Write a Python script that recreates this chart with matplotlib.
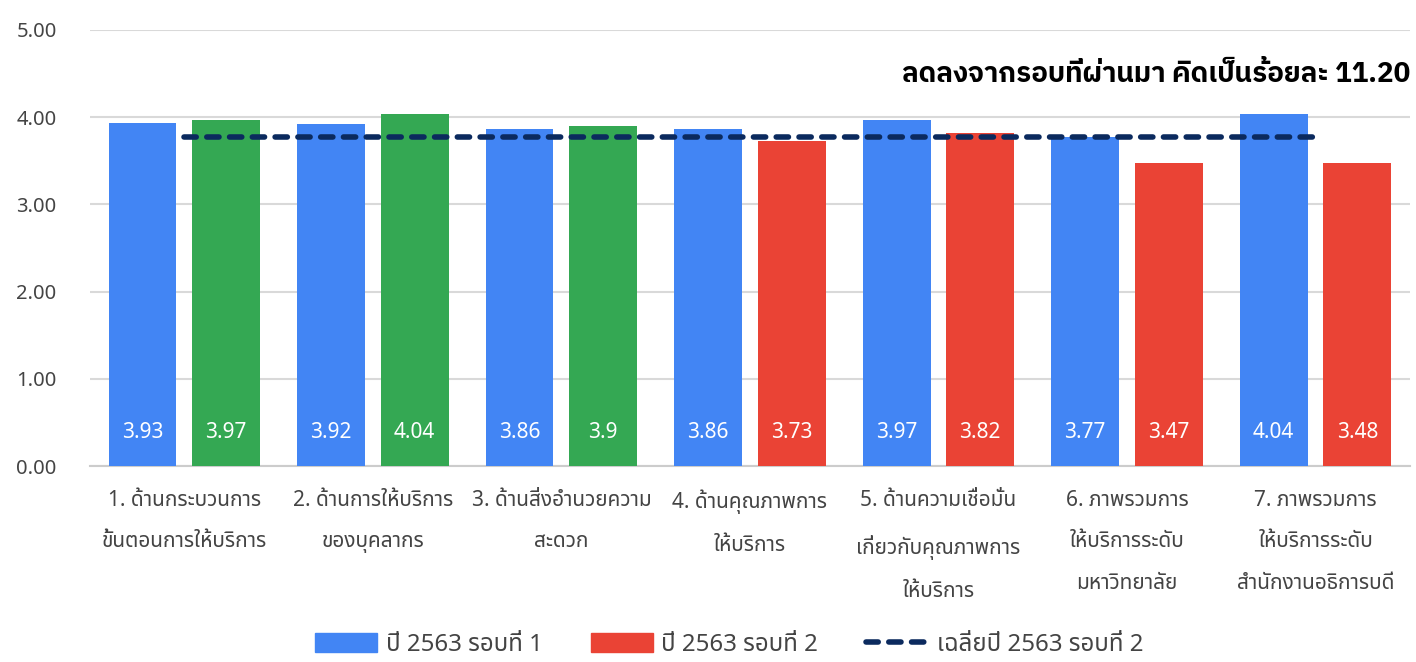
import matplotlib
matplotlib.use("Agg")
import matplotlib.pyplot as plt
from matplotlib.patches import Patch
from matplotlib.lines import Line2D
import numpy as np

plt.rcParams["font.family"] = ["Noto Sans Thai", "Noto Sans", "DejaVu Sans"]

categories = [
    "1. ด้านกระบวนการ\nขั้นตอนการให้บริการ",
    "2. ด้านการให้บริการ\nของบุคลากร",
    "3. ด้านสิ่งอำนวยความ\nสะดวก",
    "4. ด้านคุณภาพการ\nให้บริการ",
    "5. ด้านความเชื่อมั่น\nเกี่ยวกับคุณภาพการ\nให้บริการ",
    "6. ภาพรวมการ\nให้บริการระดับ\nมหาวิทยาลัย",
    "7. ภาพรวมการ\nให้บริการระดับ\nสำนักงานอธิการบดี",
]
round1 = [3.93, 3.92, 3.86, 3.86, 3.97, 3.77, 4.04]
round2 = [3.97, 4.04, 3.9, 3.73, 3.82, 3.47, 3.48]
round1_labels = ["3.93", "3.92", "3.86", "3.86", "3.97", "3.77", "4.04"]
round2_labels = ["3.97", "4.04", "3.9", "3.73", "3.82", "3.47", "3.48"]
yticks = [0, 1, 2, 3, 4, 5]
ytick_labels = ["0.00", "1.00", "2.00", "3.00", "4.00", "5.00"]
legend_names = ["ปี 2563 รอบที่ 1", "ปี 2563 รอบที่ 2", "เฉลี่ยปี 2563 รอบที่ 2"]
note = "ลดลงจากรอบที่ผ่านมา คิดเป็นร้อยละ 11.20"

blue = "#4285F4"
red = "#EA4335"
green = "#34A853"
navy = "#0B2A5E"

avg2 = np.mean(round2)
x = np.arange(len(categories))
w = 0.36
off = 0.222
# รอบ 2 สูงกว่ารอบ 1 = เขียว, ต่ำกว่า = แดง
colors2 = [green if b > a else red for a, b in zip(round1, round2)]

fig = plt.figure(figsize=(14.16, 6.62), dpi=100)
ax = fig.add_axes([0.0636, 0.296, 0.932, 0.6587])

b1 = ax.bar(x - off, round1, w, color=blue, zorder=3)
b2 = ax.bar(x + off, round2, w, color=colors2, zorder=3)
ax.plot(x, [avg2] * len(x), color=navy, lw=4, ls=(0, (2.2, 1.9)),
        dash_capstyle="round", zorder=4)

for rect, lab in zip(b1, round1_labels):
    ax.text(rect.get_x() + rect.get_width() / 2, 0.39, lab, ha="center",
            va="center", color="white", fontsize=15, zorder=5)
for rect, lab in zip(b2, round2_labels):
    ax.text(rect.get_x() + rect.get_width() / 2, 0.39, lab, ha="center",
            va="center", color="white", fontsize=15, zorder=5)

ax.set_xlim(-0.5, len(x) - 0.5)
ax.set_ylim(0, 5)
ax.set_yticks(yticks)
ax.set_yticklabels(ytick_labels)
ax.set_xticks(x)
ax.set_xticklabels(categories, linespacing=2.3)
ax.tick_params(axis="both", length=0, labelsize=14.5, labelcolor="#444444")
ax.tick_params(axis="x", pad=17, labelsize=15)
ax.tick_params(axis="y", pad=24)

ax.grid(axis="y", color="#D9D9D9", lw=1.5, zorder=0)
for s in ["top", "right", "left"]:
    ax.spines[s].set_visible(False)
ax.spines["bottom"].set_color("#CCCCCC")
ax.spines["bottom"].set_linewidth(1.5)

fig.text(0.996, 0.887, note, ha="right", va="center", fontsize=20,
         fontweight="bold", color="#000000",
         family=["IBM Plex Sans Thai", "Noto Sans", "DejaVu Sans"])

handles = [
    Patch(color=blue),
    Patch(color=red),
    Line2D([0], [0], color=navy, lw=4, ls=(0, (2.2, 1.9)), dash_capstyle="round"),
]
fig.legend(handles, legend_names, loc="center", bbox_to_anchor=(0.515, 0.026),
           ncol=3, frameon=False, fontsize=17.3, handlelength=2.58, handleheight=0.85,
           columnspacing=2.0, handletextpad=0.35, labelcolor="#444444")

fig.savefig("out.png")
